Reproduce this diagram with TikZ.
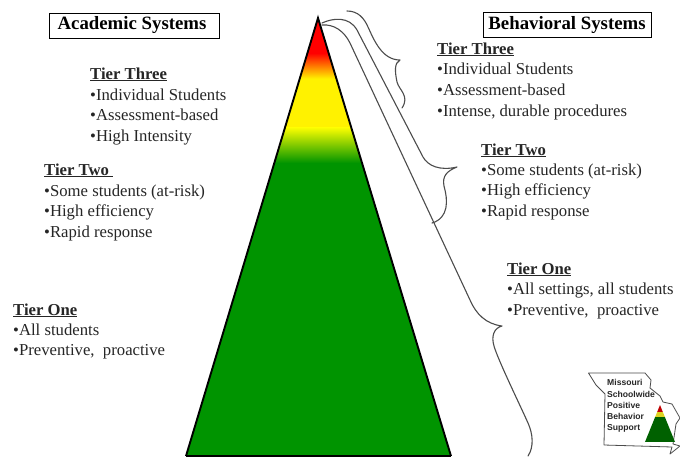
\documentclass[tikz,border=0pt]{standalone}
\usepackage{fontspec}
\setmainfont{Liberation Serif}
\newfontfamily\logofont{Liberation Sans}
\tikzset{
 txt/.style={anchor=base west,inner sep=0pt,yshift=-1pt,font=\fontsize{16.7}{16.7}\selectfont,text=black!85},
 head/.style={anchor=base west,inner sep=0pt,text=black!85,font=\fontsize{16.7}{16.7}\selectfont\bfseries},
 title/.style={draw=black,line width=0.8pt,fill=white,inner sep=0pt,minimum height=25pt,font=\fontsize{18.8}{18.8}\selectfont\bfseries},
 bracecurve/.style={draw=black!70,line width=1.1pt,line cap=round,line join=round},
 logotxt/.style={anchor=base west,inner sep=0pt,font=\fontsize{8.6}{8.6}\selectfont\bfseries\logofont,text=black!85},
}
\begin{document}
\begin{tikzpicture}[x=1pt,y=-1pt]
\useasboundingbox (0,0) rectangle (680,456);
\fill[white] (0,0) rectangle (680,456);
% pyramid
\begin{scope}
\clip (318,18) -- (451,456) -- (186,456) -- cycle;
\fill[green!58!black] (180,160) rectangle (460,456);
\fill[red] (180,14) rectangle (460,54);
\shade[top color=red,bottom color=yellow] (180,53) rectangle (460,80);
\fill[yellow] (180,79) rectangle (460,128);
\shade[top color=yellow,bottom color=green!58!black] (180,127) rectangle (460,163);
\end{scope}
\coordinate (apex) at (318,18);
\coordinate (br) at (451,456);
\coordinate (bl) at (186,456);
\draw[black,line width=1.9pt,line join=miter] (br) -- (apex) -- (bl);
\draw[black,line width=1.2pt] (bl) -- (br);
% braces
\draw[bracecurve] (347,11) .. controls (358,11) and (364,18) .. (368,27)
 .. controls (374,40) and (382,60) .. (400,60)
 .. controls (394,63) and (395,72) .. (397,82)
 .. controls (399,90) and (410,96) .. (402,108);
\draw[bracecurve] (322,23) .. controls (333,18) and (349,16) .. (357,30)
 -- (423,157) .. controls (428,166) and (440,171) .. (457,167)
 .. controls (447,171) and (442,176) .. (444,186)
 .. controls (448,200) and (449,218) .. (432,223);
\draw[bracecurve] (322,25) .. controls (334,24) and (344,31) .. (350,43)
 -- (470,300) .. controls (476,314) and (486,324) .. (502,326)
 .. controls (494,328) and (491,336) .. (494,346)
 .. controls (498,360) and (520,405) .. (528,423)
 .. controls (533,434) and (534,447) .. (528,456);
% titles
\node[title,minimum width=170pt] (acad) at (134,25.5) {Academic Systems\kern4pt};
\node[title,minimum width=168pt] (beh) at (567,25) {Behavioral Systems};
% left text
\node[head] (a3) at (90,79) {\underline{Tier Three}};
\node[txt] (a3a) at (90,99) {•Individual Students};
\node[txt] (a3b) at (90,119) {•Assessment-based};
\node[txt] (a3c) at (90,140) {•High Intensity};
\node[head] (a2) at (44,175) {\underline{Tier Two\ }};
\node[txt] (a2a) at (44,195) {•Some students (at-risk)};
\node[txt] (a2b) at (44,215) {•High efficiency};
\node[txt] (a2c) at (44,236) {•Rapid response};
\node[head] (a1) at (13,315) {\underline{Tier One}};
\node[txt] (a1a) at (13,334) {•All students};
\node[txt] (a1b) at (13,354) {•Preventive,\ \ proactive};
% right text
\node[head] (b3) at (437,54) {\underline{Tier Three}};
\node[txt] (b3a) at (437,73) {•Individual Students};
\node[txt] (b3b) at (437,94) {•Assessment-based};
\node[txt] (b3c) at (437,115) {•Intense, durable procedures};
\node[head] (b2) at (481,155) {\underline{Tier Two}};
\node[txt] (b2a) at (481,174) {•Some students (at-risk)};
\node[txt] (b2b) at (481,194) {•High efficiency};
\node[txt] (b2c) at (481,215) {•Rapid response};
\node[head] (b1) at (507,274) {\underline{Tier One}};
\node[txt] (b1a) at (507,293) {•All settings, all students};
\node[txt] (b1b) at (507,314) {•Preventive,\ \ proactive};
% logo
\draw[black!70,line width=0.8pt,line join=round] (588.5,373) -- (645,373) -- (651,380) -- (650,388) -- (660,396) -- (663,402) -- (672,404) -- (680,418) -- (676,424) -- (673,444) -- (680,446) -- (675,450) -- (670,454) -- (672,447) -- (604,445) -- (605,394) -- (596,385) -- cycle;
\begin{scope}
\clip (660,405) -- (675,442) -- (645,442) -- cycle;
\fill[green!38!black] (640,417) rectangle (680,442);
\fill[yellow!85!black] (640,412) rectangle (680,417);
\fill[red!75!black] (640,402) rectangle (680,412);
\end{scope}
\node[logotxt] (l1) at (607,385) {Missouri};
\node[logotxt] (l2) at (607,397) {Schoolwide};
\node[logotxt] (l3) at (607,408) {Positive};
\node[logotxt] (l4) at (607,419) {Behavior};
\node[logotxt] (l5) at (607,430) {Support};
\end{tikzpicture}
\end{document}
